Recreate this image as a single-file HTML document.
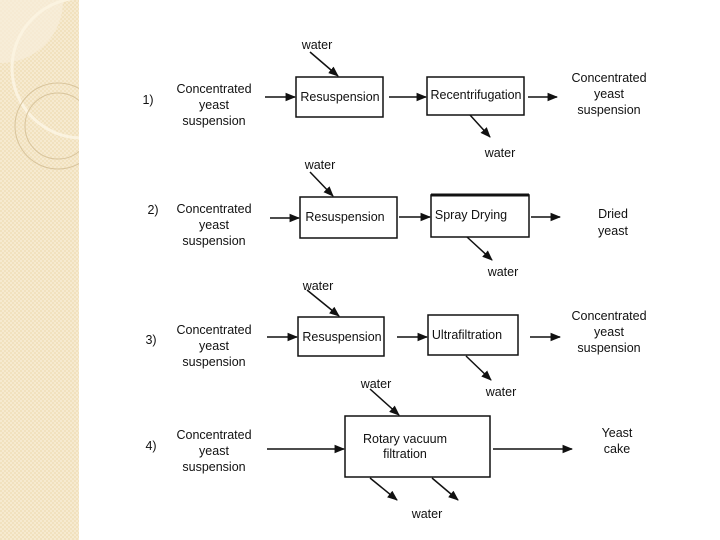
<!DOCTYPE html>
<html><head><meta charset="utf-8"><style>
html,body{margin:0;padding:0;background:#fff;width:720px;height:540px;overflow:hidden}
</style></head><body>
<svg width="720" height="540" viewBox="0 0 720 540" xmlns="http://www.w3.org/2000/svg" font-family="Liberation Sans, sans-serif" font-size="12.5" fill="#111">
<defs>
<marker id="a" viewBox="0 0 10 10" refX="9" refY="5" markerWidth="7" markerHeight="7" orient="auto"><path d="M0,1 L10,5 L0,9 z" fill="#111"/></marker>
<pattern id="p" width="4" height="4" patternUnits="userSpaceOnUse"><rect width="4" height="4" fill="#f1e1be"/><rect width="2" height="2" fill="#f6ead0"/><rect x="2" y="2" width="2" height="2" fill="#f6ead0"/></pattern>
<clipPath id="c"><rect width="79" height="540"/></clipPath>
</defs>
<rect x="0" y="0" width="79" height="540" fill="url(#p)"/>
<g clip-path="url(#c)">
<path d="M0,0 H63 A62 62 0 0 1 0,63 Z" fill="#f8eedb" opacity="0.7"/>
<circle cx="82" cy="68" r="70" fill="none" stroke="#fbf3e0" stroke-width="3"/>
<circle cx="58" cy="126" r="43" fill="none" stroke="#d8c49c" stroke-width="1"/>
<circle cx="58" cy="126" r="33" fill="none" stroke="#d8c49c" stroke-width="1"/>
</g>
<g stroke="#111" stroke-width="1.5" fill="none">
<rect x="296" y="77" width="87" height="40"/>
<rect x="427" y="77" width="97" height="38"/>
<rect x="300" y="197" width="97" height="41"/>
<rect x="431" y="195" width="98" height="42"/>
<line x1="431" y1="195" x2="529" y2="195" stroke-width="3"/>
<rect x="298" y="317" width="86" height="39"/>
<rect x="428" y="315" width="90" height="40"/>
<rect x="345" y="416" width="145" height="61"/>
</g>
<g stroke="#111" stroke-width="1.5" marker-end="url(#a)">
<line x1="265" y1="97" x2="295" y2="97"/>
<line x1="389" y1="97" x2="426" y2="97"/>
<line x1="528" y1="97" x2="557" y2="97"/>
<line x1="310" y1="52" x2="338" y2="76"/>
<line x1="470" y1="115" x2="490" y2="137"/>
<line x1="270" y1="218" x2="299" y2="218"/>
<line x1="399" y1="217" x2="430" y2="217"/>
<line x1="531" y1="217" x2="560" y2="217"/>
<line x1="310" y1="172" x2="333" y2="196"/>
<line x1="467" y1="237" x2="492" y2="260"/>
<line x1="267" y1="337" x2="297" y2="337"/>
<line x1="397" y1="337" x2="427" y2="337"/>
<line x1="530" y1="337" x2="560" y2="337"/>
<line x1="307" y1="290" x2="339" y2="316"/>
<line x1="466" y1="356" x2="491" y2="380"/>
<line x1="267" y1="449" x2="344" y2="449"/>
<line x1="493" y1="449" x2="572" y2="449"/>
<line x1="370" y1="389" x2="399" y2="415"/>
<line x1="370" y1="478" x2="397" y2="500"/>
<line x1="432" y1="478" x2="458" y2="500"/>
</g>
<g text-anchor="middle">
<text x="148" y="104">1)</text>
<text x="214" y="93">Concentrated</text><text x="214" y="109">yeast</text><text x="214" y="125">suspension</text>
<text x="340" y="101">Resuspension</text>
<text x="476" y="99">Recentrifugation</text>
<text x="609" y="82">Concentrated</text><text x="609" y="98">yeast</text><text x="609" y="114">suspension</text>
<text x="317" y="49">water</text>
<text x="500" y="157">water</text>
<text x="153" y="214">2)</text>
<text x="214" y="213">Concentrated</text><text x="214" y="229">yeast</text><text x="214" y="245">suspension</text>
<text x="345" y="221">Resuspension</text>
<text x="471" y="219">Spray Drying</text>
<text x="613" y="218">Dried</text><text x="613" y="235">yeast</text>
<text x="320" y="169">water</text>
<text x="503" y="276">water</text>
<text x="151" y="344">3)</text>
<text x="214" y="334">Concentrated</text><text x="214" y="350">yeast</text><text x="214" y="366">suspension</text>
<text x="342" y="341">Resuspension</text>
<text x="467" y="339">Ultrafiltration</text>
<text x="609" y="320">Concentrated</text><text x="609" y="336">yeast</text><text x="609" y="352">suspension</text>
<text x="318" y="290">water</text>
<text x="501" y="396">water</text>
<text x="151" y="450">4)</text>
<text x="214" y="439">Concentrated</text><text x="214" y="455">yeast</text><text x="214" y="471">suspension</text>
<text x="405" y="443">Rotary vacuum</text><text x="405" y="458">filtration</text>
<text x="617" y="437">Yeast</text><text x="617" y="453">cake</text>
<text x="376" y="388">water</text>
<text x="427" y="518">water</text>
</g>
</svg>
</body></html>
